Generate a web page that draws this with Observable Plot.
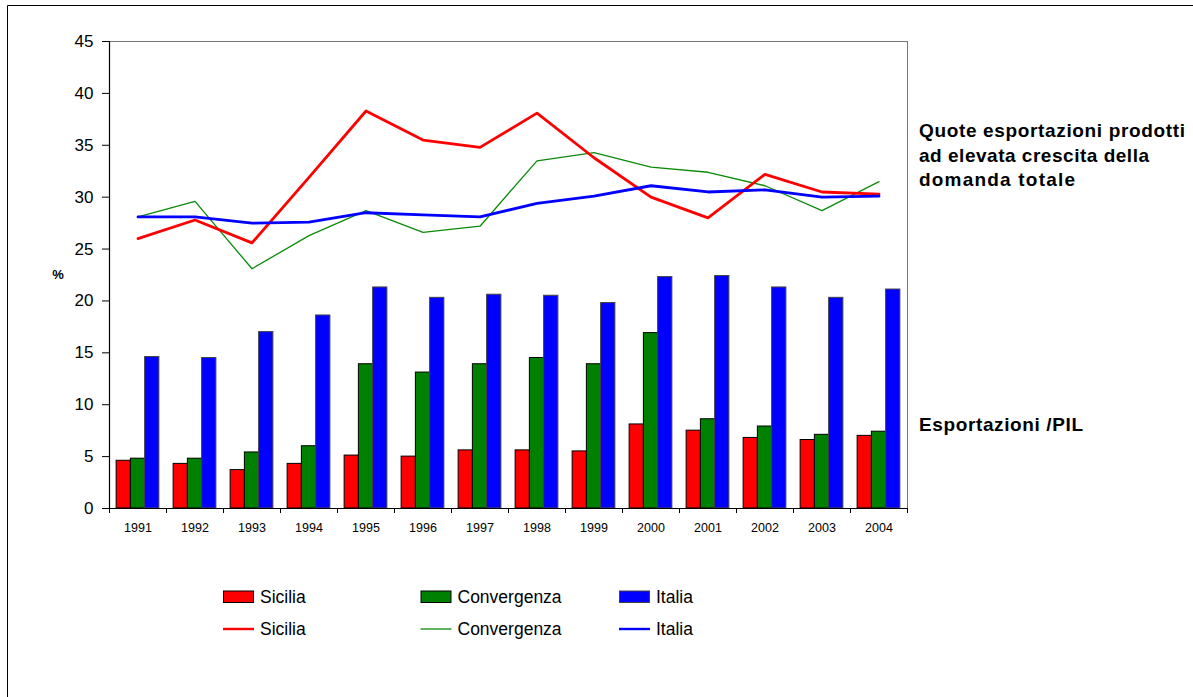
<!DOCTYPE html>
<html>
<head>
<meta charset="utf-8">
<script src="https://cdn.jsdelivr.net/npm/d3@7"></script>
<script src="https://cdn.jsdelivr.net/npm/@observablehq/plot@0.6"></script>
<style>
  html, body { margin: 0; padding: 0; background: #fff; }
  #chart { width: 1193px; height: 697px; overflow: hidden; }
</style>
</head>
<body>
<div id="chart"></div>
<script>
const years = [1991, 1992, 1993, 1994, 1995, 1996, 1997, 1998, 1999, 2000, 2001, 2002, 2003, 2004];
const seriesNames = ["Sicilia", "Convergenza", "Italia"];
const seriesColors = ["#ff0000", "#008000", "#0000ff"];

// Esportazioni / PIL (bars)
const barSicilia     = [4.6, 4.3, 3.7, 4.3, 5.1, 5.0, 5.6, 5.6, 5.5, 8.1, 7.5, 6.8, 6.6, 7.0];
const barConvergenza = [4.8, 4.8, 5.4, 6.0, 13.9, 13.1, 13.9, 14.5, 13.9, 16.9, 8.6, 7.9, 7.1, 7.4];
const barItalia      = [14.6, 14.5, 17.0, 18.6, 21.3, 20.3, 20.6, 20.5, 19.8, 22.3, 22.4, 21.3, 20.3, 21.1];

// Quote esportazioni prodotti ad elevata crescita della domanda totale (lines)
const lineSicilia     = [26.0, 27.8, 25.6, 31.9, 38.3, 35.5, 34.8, 38.1, 33.8, 30.0, 28.0, 32.2, 30.5, 30.3];
const lineConvergenza = [28.1, 29.6, 23.1, 26.3, 28.7, 26.6, 27.2, 33.5, 34.3, 32.9, 32.4, 31.1, 28.7, 31.5];
const lineItalia      = [28.1, 28.1, 27.5, 27.6, 28.5, 28.3, 28.1, 29.4, 30.1, 31.1, 30.5, 30.7, 30.0, 30.1];

const yTicks = [0, 5, 10, 15, 20, 25, 30, 35, 40, 45];

const noteLines = ["Quote esportazioni prodotti", "ad elevata crescita della", "domanda totale"];
const barNote = "Esportazioni /PIL";

const barSeries = [barSicilia, barConvergenza, barItalia];
const lineSeries = [lineSicilia, lineConvergenza, lineItalia];

// bar table: each year is one unit on a linear x scale, three bars side by side
const barW = 0.25;
const barTables = barSeries.map((vals, k) =>
  vals.map((v, i) => ({ x1: i + 0.125 + k * barW, x2: i + 0.125 + (k + 1) * barW, y: v }))
);
const lineTables = lineSeries.map(vals => vals.map((v, i) => ({ x: i + 0.5, y: v })));

const W = 1193, H = 697;
const font = "'Liberation Sans', Arial, Helvetica, sans-serif";

const svg = Plot.plot({
  width: W,
  height: H,
  marginLeft: 109,
  marginRight: 286,
  marginTop: 41,
  marginBottom: 189,
  style: { fontFamily: font, background: "#fff", color: "#000" },
  x: { domain: [0, years.length], axis: null },
  y: { domain: [0, 45], axis: null },
  marks: [
    Plot.frame({ stroke: "#777", strokeWidth: 1 }),
    Plot.rectY(barTables[0], { x1: "x1", x2: "x2", y: "y", fill: seriesColors[0], stroke: "#000", strokeWidth: 1 }),
    Plot.rectY(barTables[1], { x1: "x1", x2: "x2", y: "y", fill: seriesColors[1], stroke: "#000", strokeWidth: 1 }),
    Plot.rectY(barTables[2], { x1: "x1", x2: "x2", y: "y", fill: seriesColors[2], stroke: "#444", strokeWidth: 1 }),
    Plot.line(lineTables[1], { x: "x", y: "y", stroke: "#0a8a0a", strokeWidth: 1.3 }),
    Plot.line(lineTables[0], { x: "x", y: "y", stroke: "#ff0000", strokeWidth: 2.8 }),
    Plot.line(lineTables[2], { x: "x", y: "y", stroke: "#0000ff", strokeWidth: 2.8 }),
    Plot.ruleX([0], { stroke: "#000", strokeWidth: 1.2 }),
    Plot.ruleY([0], { stroke: "#000", strokeWidth: 1.2 }),
    Plot.axisY({ ticks: yTicks, tickSize: 7, tickPadding: 9, fontSize: 17, label: null,
                 tickFormat: d => String(d), stroke: "#000" }),
    Plot.axisX({ ticks: d3.range(0, years.length + 1), tickSize: 5, label: null, tickFormat: () => "", stroke: "#000" }),
    Plot.axisX({ ticks: years.map((y, i) => i + 0.5), tickSize: 0, tickPadding: 15, fontSize: 12.5, label: null,
                 tickFormat: v => String(years[Math.round(v - 0.5)]) })
  ]
});

const root = d3.select(svg);
root.style("font-family", font);

// outer border (top and left)
root.append("line").attr("x1", 7.5).attr("y1", 5.5).attr("x2", W).attr("y2", 5.5).attr("stroke", "#000");
root.append("line").attr("x1", 7.5).attr("y1", 5.5).attr("x2", 7.5).attr("y2", H).attr("stroke", "#000");

const addText = (x, y, size, weight, anchor, t, len) => {
  const el = root.append("text").attr("x", x).attr("y", y).attr("font-size", size)
    .attr("font-weight", weight).attr("text-anchor", anchor).attr("fill", "#000").text(t);
  if (len) el.attr("textLength", len).attr("lengthAdjust", "spacing");
  return el;
};

// y unit label
addText(58, 279, 13, "bold", "middle", "%");

// right-side annotations
const noteLens = [266, 230, 156];
noteLines.forEach((t, i) => addText(919, 137 + i * 24.7, 19, "bold", "start", t, noteLens[i]));
addText(919, 431, 19, "bold", "start", barNote, 164);

// legend
const legendX = [223, 420.5, 619];
seriesNames.forEach((name, k) => {
  const x = legendX[k];
  root.append("rect").attr("x", x + 0.5).attr("y", 591).attr("width", 30).attr("height", 11.5)
    .attr("fill", seriesColors[k]).attr("stroke", k === 2 ? "#444" : "#000").attr("stroke-width", 1);
  addText(x + 37, 603, 17.5, "normal", "start", name);
  root.append("line").attr("x1", x).attr("x2", x + 31).attr("y1", 629).attr("y2", 629)
    .attr("stroke", k === 1 ? "#0a8a0a" : seriesColors[k]).attr("stroke-width", k === 1 ? 1.3 : 2.4);
  addText(x + 37, 635, 17.5, "normal", "start", name);
});

document.getElementById("chart").appendChild(svg);
</script>
</body>
</html>
